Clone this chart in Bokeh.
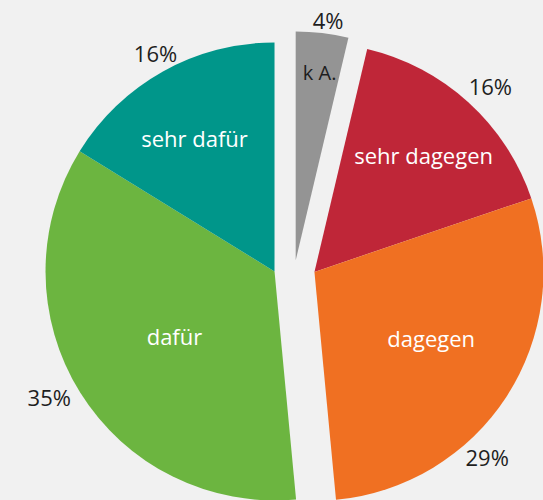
import math
from bokeh.plotting import figure
from bokeh.models import ColumnDataSource, Range1d
from bokeh.core.properties import value
from bokeh.embed import file_html
from bokeh.resources import INLINE

# ---- data ----
categories = ["k A.", "sehr dagegen", "dagegen", "dafür", "sehr dafür"]
values = [3.7, 16.1, 28.7, 35.3, 16.2]
pct_labels = ["4%", "16%", "29%", "35%", "16%"]
groups = ["ka", "contra", "contra", "pro", "pro"]
colors = ["#949494", "#bf2638", "#f07022", "#6cb540", "#00968a"]
inner_text_colors = ["#1e1e1e", "#ffffff", "#ffffff", "#ffffff", "#ffffff"]

# ---- layout / style ----
W, H = 543, 500
BG = "#f1f1f1"
CX, CY = 294, 230
R = 229
explode = {"ka": 10, "contra": 20, "pro": 20}
inner_r = [190, 160, 134, 119, 156]
inner_shift = [-0.6, -0.7, 3.5, 0.9, 1.7]
outer_r = [243, 256, 253, 258, 249]
outer_shift = [-1.0, -1.1, -14.0, -2.7, -0.6]
inner_sizes = ["20px", "22px", "22px", "22px", "22px"]

total = sum(values)
starts, ends = [], []
cum = 0
for v in values:
    s = 90 - cum / total * 360
    cum += v
    e = 90 - cum / total * 360
    starts.append(s)
    ends.append(e)

# group mid angles
gmid = {}
for g in set(groups):
    idx = [i for i, gg in enumerate(groups) if gg == g]
    gmid[g] = (starts[idx[0]] + ends[idx[-1]]) / 2

xs, ys = [], []
for g in groups:
    a = math.radians(gmid[g])
    xs.append(CX + explode[g] * math.cos(a))
    ys.append(CY + explode[g] * math.sin(a))

src = ColumnDataSource(dict(
    x=xs, y=ys,
    start=[math.radians(e) for e in ends],
    end=[math.radians(s) for s in starts],
    color=colors,
))

p = figure(width=W, height=H, x_range=Range1d(0, W), y_range=Range1d(0, H),
           output_backend="svg", toolbar_location=None, min_border=0,
           background_fill_color=BG, border_fill_color=BG, outline_line_color=None)
p.axis.visible = False
p.grid.visible = False

p.wedge(x="x", y="y", radius=R, start_angle="start", end_angle="end",
        direction="anticlock", fill_color="color", line_color=None, source=src)

ix, iy, ox, oy = [], [], [], []
for i in range(len(values)):
    mid = (starts[i] + ends[i]) / 2
    a = math.radians(mid + inner_shift[i])
    ix.append(xs[i] + inner_r[i] * math.cos(a))
    iy.append(ys[i] + inner_r[i] * math.sin(a))
    b = math.radians(mid + outer_shift[i])
    ox.append(xs[i] + outer_r[i] * math.cos(b))
    oy.append(ys[i] + outer_r[i] * math.sin(b))

lab_src = ColumnDataSource(dict(x=ix, y=iy, text=categories, color=inner_text_colors,
                                size=inner_sizes))
p.text(x="x", y="y", text="text", text_color="color", text_font=value("Open Sans"),
       text_font_size="size", text_align="center", text_baseline="middle", source=lab_src)

pct_src = ColumnDataSource(dict(x=ox, y=oy, text=pct_labels))
p.text(x="x", y="y", text="text", text_color="#1e1e1e", text_font=value("Open Sans"),
       text_font_size="22px", text_align="center", text_baseline="middle", source=pct_src)

html = file_html(p, INLINE, title="Umfrage")
html = html.replace("<head>", "<head><style>html,body{margin:0;padding:0;background:%s;overflow:hidden}</style>" % BG, 1)
open("out.html", "w").write(html)
